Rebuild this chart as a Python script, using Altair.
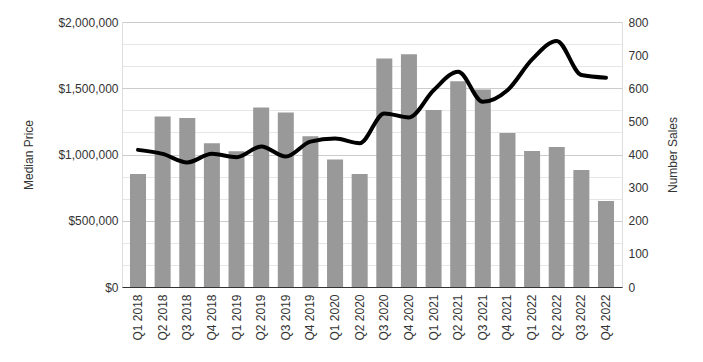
import altair as alt
import pandas as pd

quarters = ["Q1 2018", "Q2 2018", "Q3 2018", "Q4 2018",
            "Q1 2019", "Q2 2019", "Q3 2019", "Q4 2019",
            "Q1 2020", "Q2 2020", "Q3 2020", "Q4 2020",
            "Q1 2021", "Q2 2021", "Q3 2021", "Q4 2021",
            "Q1 2022", "Q2 2022", "Q3 2022", "Q4 2022"]
median_price = [853000, 1287000, 1275000, 1084000,
                1024000, 1355000, 1317000, 1137000,
                963000, 853000, 1724000, 1756000,
                1335000, 1553000, 1490000, 1162000,
                1026000, 1056000, 883000, 650000]
number_sales = [414, 402, 376, 402,
                392, 424, 394, 439,
                448, 434, 524, 512,
                594, 650, 559, 594,
                687, 743, 640, 632]
price_ticks = [0, 166666.67, 333333.33, 500000, 666666.67, 833333.33, 1000000,
               1166666.67, 1333333.33, 1500000, 1666666.67, 1833333.33, 2000000]
sales_ticks = [0, 100, 200, 300, 400, 500, 600, 700, 800]

df = pd.DataFrame({"Quarter": quarters, "Median Price": median_price,
                   "Number Sales": number_sales})

FONT = "Liberation Sans"

x = alt.X("Quarter:N", sort=quarters, title=None,
          scale=alt.Scale(paddingInner=0.35, paddingOuter=0.325),
          axis=alt.Axis(labelAngle=270, labelFontSize=12, labelColor="#333333",
                        labelFont=FONT, ticks=False, domainColor="#333333",
                        labelPadding=7, labelBaseline="middle", labelAlign="right"))

bars = alt.Chart(df).mark_bar(color="#999999").encode(
    x=x,
    y=alt.Y("Median Price:Q", title="Median Price",
            scale=alt.Scale(domain=[0, 2000000], nice=False),
            axis=alt.Axis(values=price_ticks,
                          labelExpr="round(datum.value) % 500000 == 0 ? '$' + format(round(datum.value), ',.0f') : ''",
                          ticks=False, domain=False, labelPadding=4,
                          labelFontSize=12, labelColor="#333333", labelFont=FONT,
                          titleFontSize=12, titleColor="#333333", titleFont=FONT,
                          titleFontWeight="normal", titlePadding=22,
                          gridColor={"condition": {"test": "round(datum.value) % 500000 == 0",
                                                   "value": "#cccccc"},
                                     "value": "#e6e6e6"}))
)

line = alt.Chart(df).mark_line(color="black", strokeWidth=4, interpolate="monotone",
                               strokeCap="round", strokeJoin="round").encode(
    x=x,
    y=alt.Y("Number Sales:Q", title="Number Sales",
            scale=alt.Scale(domain=[0, 800], nice=False),
            axis=alt.Axis(orient="right", values=sales_ticks, grid=False, ticks=False,
                          domain=False, labelPadding=6,
                          labelFontSize=12, labelColor="#333333", labelFont=FONT,
                          titleFontSize=12, titleColor="#333333", titleFont=FONT,
                          titleFontWeight="normal", titleAngle=270, titlePadding=31))
)

chart = alt.layer(bars, line).resolve_scale(y="independent").properties(
    width=500, height=265,
    autosize=alt.AutoSizeParams(type="none"),
    padding={"left": 114, "top": 14, "right": 73, "bottom": 60},
).configure_view(stroke=None).configure(background="white")

chart.save("out.html", embed_options={"renderer": "svg", "actions": False})
